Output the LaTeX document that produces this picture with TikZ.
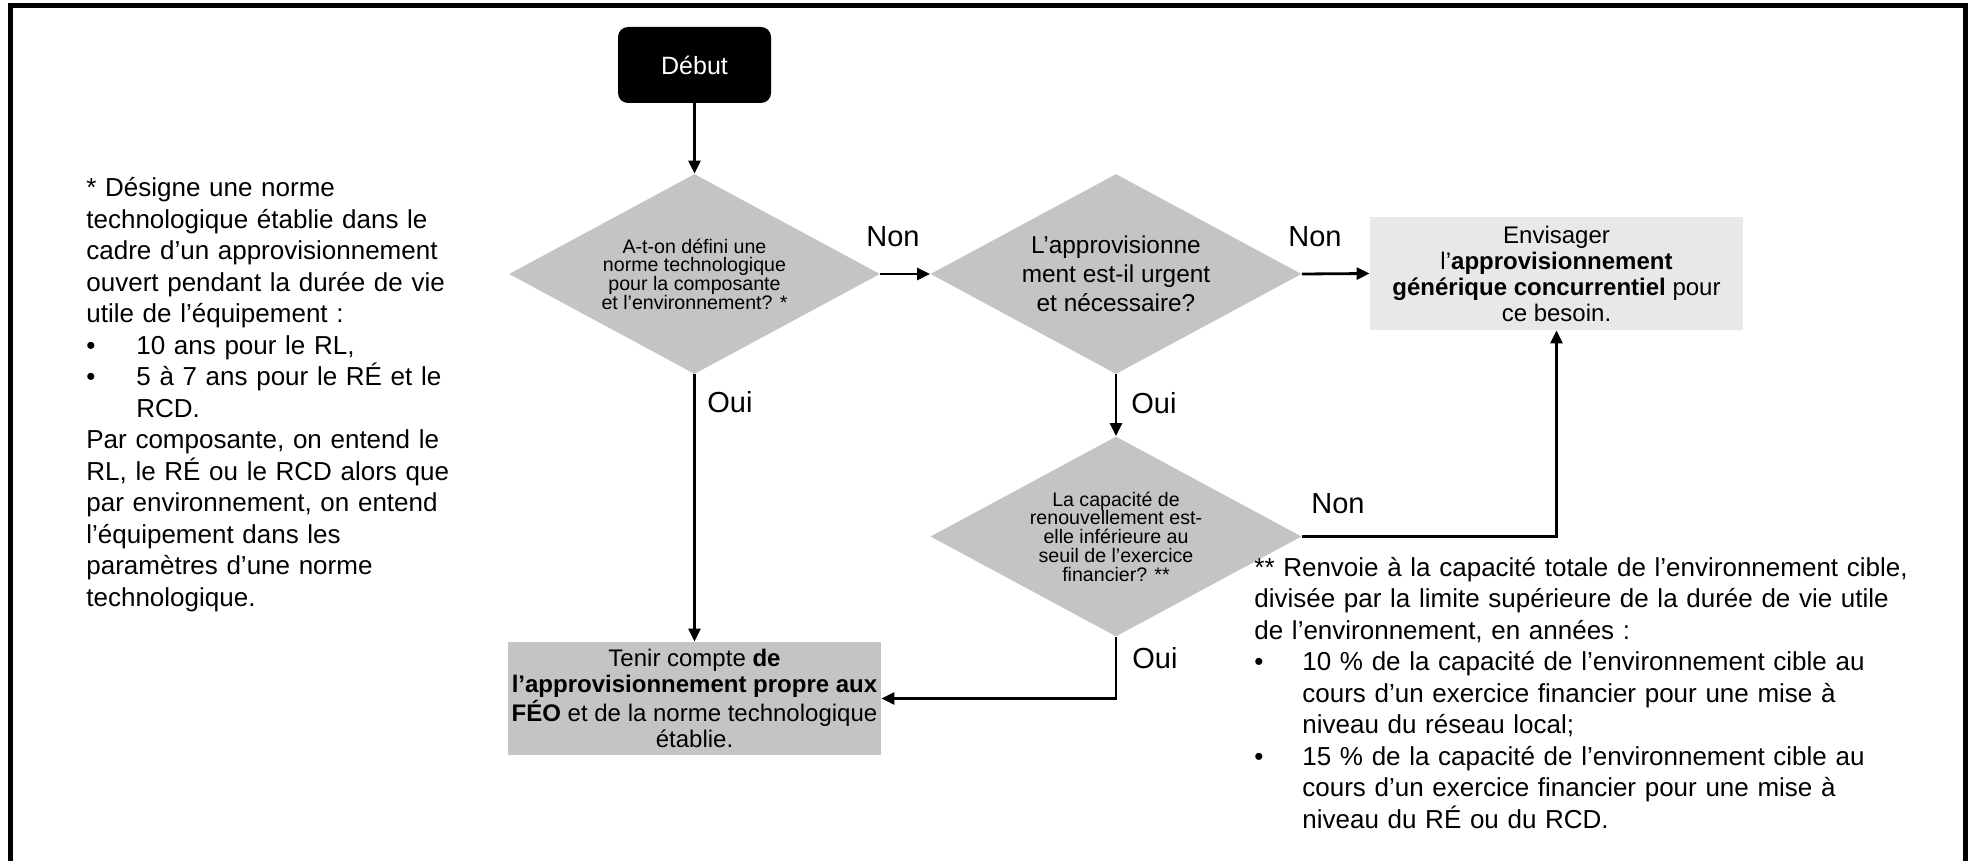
\documentclass[tikz,border=0pt]{standalone}
\usepackage{fontspec}
\setmainfont{Liberation Sans}
\usetikzlibrary{shapes.geometric,arrows.meta}
\begin{document}
\begin{tikzpicture}[x=0.5pt,y=-0.5pt,
  dec/.style={diamond, fill=black!23, inner sep=0pt, aspect=1.855, minimum width=185.5pt, minimum height=100pt, align=center},
  smalltxt/.style={font=\fontsize{9.8}{9.3}\selectfont},
  procbox/.style={rectangle, inner sep=0pt, minimum width=186.5pt, minimum height=56.5pt, align=center, font=\fontsize{12}{13}\selectfont},
  conn/.style={line width=1.4pt, -{Triangle[length=6.5pt,width=6pt]}},
  lbl/.style={font=\fontsize{14.5}{17}\selectfont, inner sep=0pt},
  note/.style={font=\fontsize{13}{15.75}\selectfont, inner sep=0pt, align=left, anchor=base west}
]
\useasboundingbox (0,0) rectangle (1971,861);
\fill[white] (0,0) rectangle (1971,861);
% frame
\draw[line width=2.5pt, line join=miter] (10.8,861) -- (10.8,5.5) -- (1965.5,5.5) -- (1965.5,861);

% nodes
\node[rectangle, rounded corners=5pt, fill=black, minimum width=76.5pt, minimum height=38pt, inner sep=0pt, text=white, font=\fontsize{12.5}{15}\selectfont] (start) at (694.5,65) {Début};

\node[dec, smalltxt] (d1) at (694.5,274) {A-t-on défini une\\norme technologique\\pour la composante\\et l’environnement? *};

\node[dec, font=\fontsize{12.2}{14.5}\selectfont] (d2) at (1116,274) {L’approvisionne\\ment est-il urgent\\et nécessaire?};

\node[dec, font=\fontsize{9.8}{9.4}\selectfont] (d3) at (1116,536.5) {La capacité de\\renouvellement est-\\elle inférieure au\\seuil de l’exercice\\financier? **};

\node[procbox, fill=black!9] (env) at (1556.5,273.5) {Envisager\\l’\textbf{approvisionnement}\\\textbf{générique concurrentiel} pour\\ce besoin.};

\node[procbox, fill=black!23] (tenir) at (694.5,698.5) {Tenir compte \textbf{de}\\\textbf{l’approvisionnement propre aux}\\\textbf{FÉO} et de la norme technologique\\établie.};

% connectors
\draw[conn] (start.south) -- (d1.north);
\draw[conn] (d1.east) -- (d2.west);
\draw[conn] (d2.east) -- (env.west);
\draw[conn] (d2.south) -- (d3.north);
\draw[conn] (d1.south) -- (tenir.north);
\draw[conn] (d3.east) -| (env.south);
\draw[conn] (d3.south) |- (tenir.east);

% labels
\node[lbl, anchor=base] (non1) at (893,247) {Non};
\node[lbl, anchor=base] (non2) at (1315,247) {Non};
\node[lbl, anchor=base] (non3) at (1338,513) {Non};
\node[lbl, anchor=base west] (oui1) at (707,412) {Oui};
\node[lbl, anchor=base west] (oui2) at (1131,414) {Oui};
\node[lbl, anchor=base west] (oui3) at (1132,668) {Oui};

% notes
\node[note, text width=200pt] (noteA) at (86,197) {* Désigne une norme\\
technologique établie dans le\\
cadre d’un approvisionnement\\
ouvert pendant la durée de vie\\
utile de l’équipement :\\
\makebox[25pt][l]{•}10 ans pour le RL,\\
\makebox[25pt][l]{•}5 à 7 ans pour le RÉ et le\\
\hspace*{25pt}RCD.\\
Par composante, on entend le\\
RL, le RÉ ou le RCD alors que\\
par environnement, on entend\\
l’équipement dans les\\
paramètres d’une norme\\
technologique.};

\node[note, text width=345pt] (noteB) at (1254,576) {** Renvoie à la capacité totale de l’environnement cible,\\
divisée par la limite supérieure de la durée de vie utile\\
de l’environnement, en années :\\
\makebox[24pt][l]{•}10 \% de la capacité de l’environnement cible au\\
\hspace*{24pt}cours d’un exercice financier pour une mise à\\
\hspace*{24pt}niveau du réseau local;\\
\makebox[24pt][l]{•}15 \% de la capacité de l’environnement cible au\\
\hspace*{24pt}cours d’un exercice financier pour une mise à\\
\hspace*{24pt}niveau du RÉ ou du RCD.};
\end{tikzpicture}
\end{document}
